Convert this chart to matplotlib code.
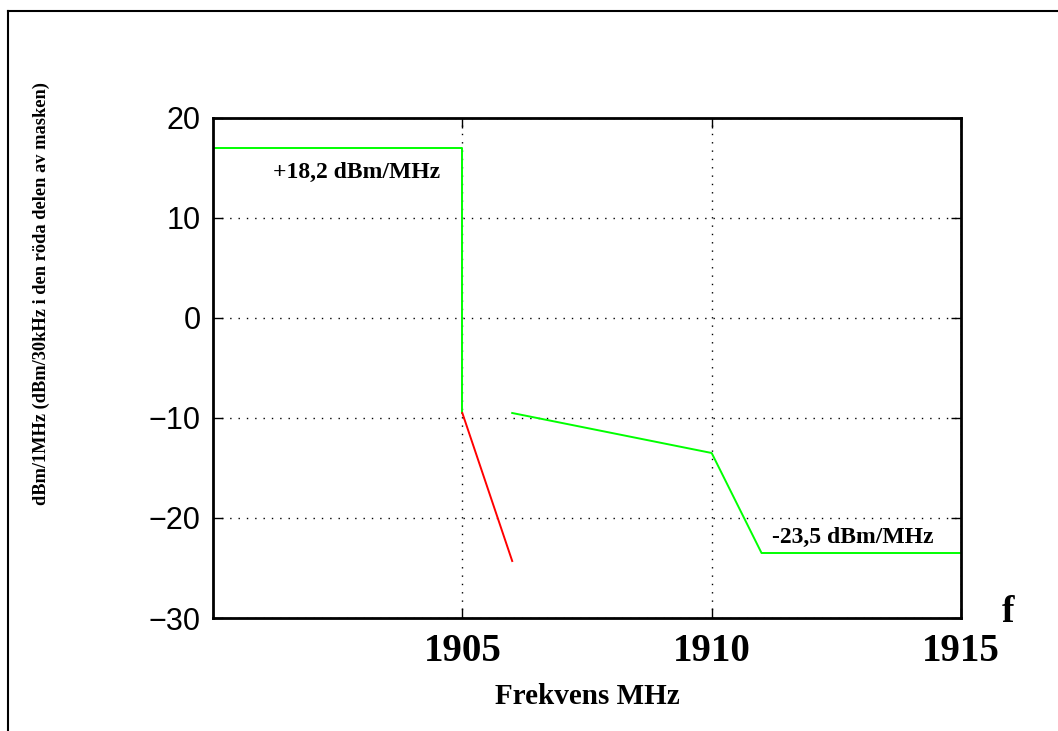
import matplotlib.pyplot as plt
from matplotlib.lines import Line2D

# mask data (MHz, dBm)
green_hi_f = [1900, 1905, 1905]
green_hi_p = [17.0, 17.0, -9.5]
red_f = [1905, 1906]
red_p = [-9.5, -24.3]
green_lo_f = [1906, 1910, 1911, 1915]
green_lo_p = [-9.5, -13.5, -23.5, -23.5]

xticks = [1905, 1910, 1915]
yticks = [-30, -20, -10, 0, 10, 20]

serif = ["Liberation Serif", "DejaVu Serif"]
sans = ["Liberation Sans", "DejaVu Sans"]

fig = plt.figure(figsize=(10.58, 7.31), dpi=100)
ax = fig.add_axes([213 / 1058, 1 - 618 / 731, 748 / 1058, 500 / 731])

ax.plot(green_hi_f, green_hi_p, color="#00ff00", lw=1.4)
ax.plot(red_f, red_p, color="#ff0000", lw=1.4)
ax.plot(green_lo_f, green_lo_p, color="#00ff00", lw=1.4)

ax.set_xlim(1900, 1915)
ax.set_ylim(-30, 20)
ax.set_xticks(xticks)
ax.set_yticks(yticks)
ax.set_xticklabels([str(t) for t in xticks], family=serif, fontweight="bold", fontsize=28)
ax.set_yticklabels(["\u2212%d" % -t if t < 0 else str(t) for t in yticks], family=sans, fontsize=22)
ax.tick_params(direction="in", top=True, right=True, length=7, width=1, pad=9)
ax.tick_params(axis="x", pad=11)
ax.grid(True, color="black", linestyle=(0, (1, 5)), linewidth=1)
for s in ax.spines.values():
    s.set_linewidth(2)

ax.text(1901.2, 14.6, "+18,2 dBm/MHz", family=serif, fontweight="bold", fontsize=17,
        va="center", ha="left")
ax.text(1911.2, -21.9, "-23,5 dBm/MHz", family=serif, fontweight="bold", fontsize=17,
        va="center", ha="left")

fig.text(587 / 1058, 1 - 697 / 731, "Frekvens MHz", family=serif, fontweight="bold",
         fontsize=21, ha="center", va="center")
fig.text(1008 / 1058, 1 - 613 / 731, "f", family=serif, fontweight="bold",
         fontsize=27, ha="center", va="center")
fig.text(41 / 1058, 1 - 294 / 731, "dBm/1MHz (dBm/30kHz i den röda delen av masken)",
         family=serif, fontweight="bold", fontsize=13.2, rotation=90,
         ha="center", va="center")

# page frame
fig.add_artist(Line2D([8 / 1058, 1], [1 - 11 / 731] * 2, color="black", lw=1.5))
fig.add_artist(Line2D([8 / 1058] * 2, [0, 1 - 11 / 731], color="black", lw=1.5))

fig.savefig("out.png", dpi=100)
